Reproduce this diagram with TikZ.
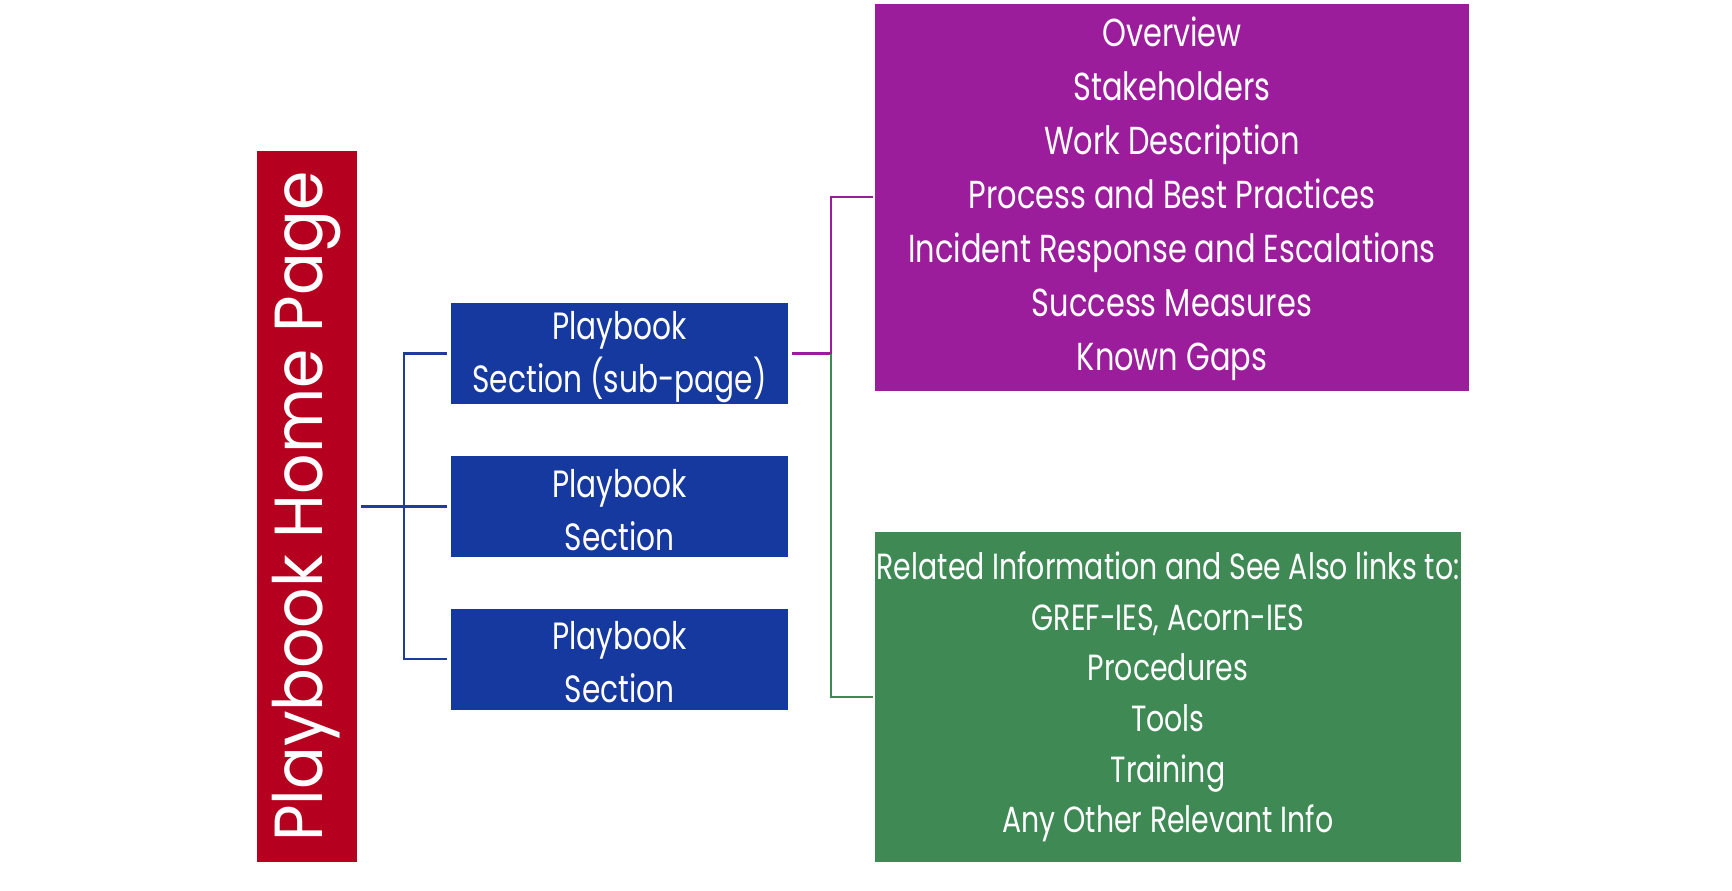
\documentclass[tikz,border=0pt]{standalone}
\usepackage{fontspec}
\setmainfont{Poppins}[FakeStretch=0.78]
\newfontfamily\homefont{Poppins}[FakeStretch=0.93]
\definecolor{hred}{RGB}{181,0,32}
\definecolor{sblue}{RGB}{22,57,160}
\definecolor{lblue}{RGB}{30,60,155}
\definecolor{ppl}{RGB}{156,29,156}
\definecolor{grn}{RGB}{62,137,84}
\begin{document}
\begin{tikzpicture}[x=0.5pt,y=-0.5pt,
  box/.style={inner sep=0pt, text=white, align=center},
  secbox/.style={box, fill=sblue, minimum width=168.5pt, minimum height=50.5pt},
  sectext/.style={box, yshift=-1.6pt, font=\fontsize{19}{26.5}\selectfont},
  bl/.style={draw=lblue, line width=1.4pt},
  pl/.style={draw=ppl, line width=1.3pt},
  gl/.style={draw=grn, line width=1.3pt}]
\useasboundingbox (0,0) rectangle (1732,890);
% home page
\node[box, fill=hred, minimum width=355.5pt, minimum height=50pt, rotate=90,
  font=\homefont\fontsize{34}{40}\selectfont] (home) at (307,506.5) {Playbook Home Page};
% sections
\node[secbox] (b1) at (619.5,353.5) {};
\node[secbox] (b2) at (619.5,506.5) {};
\node[secbox] (b3) at (619.5,659) {};
\node[sectext] (b1t) at (b1) {Playbook\\Section (sub-page)};
\node[sectext] (b2t) at (b2) {Playbook\\Section};
\node[sectext] (b3t) at (b3) {Playbook\\Section};
% right boxes
\node[box, fill=ppl, minimum width=297pt, minimum height=193.5pt] (pb) at (1172,197) {};
\node[box, yshift=-1.1pt, font=\fontsize{19.5}{27}\selectfont] (pbt) at (pb)
  {Overview\\Stakeholders\\Work Description\\Process and Best Practices\\Incident Response and Escalations\\Success Measures\\Known Gaps};
\node[box, fill=grn, minimum width=293pt, minimum height=165pt,
  font=\fontsize{18.2}{25.3}\selectfont] (gb) at (1168,697)
  {Related Information and See Also links to:\\GREF-IES, Acorn-IES\\Procedures\\Tools\\Training\\Any Other Relevant Info};
% connectors
\coordinate (tl) at (404,0);
\coordinate (tr) at (831,0);
\draw[bl, shorten <=2pt, shorten >=2pt] (home.south) -- (b2.west);
\draw[bl, shorten <=2pt, shorten >=2pt] (b1.west) -- (b1.west -| tl) -- (b3.west -| tl) -- (b3.west);
\draw[pl, shorten <=2pt, shorten >=1pt] (b1.east) -- (b1.east -| tr) |- (pb.west);
\draw[gl, shorten >=1pt] (b1.east -| tr) |- (gb.west);
\end{tikzpicture}
\end{document}
